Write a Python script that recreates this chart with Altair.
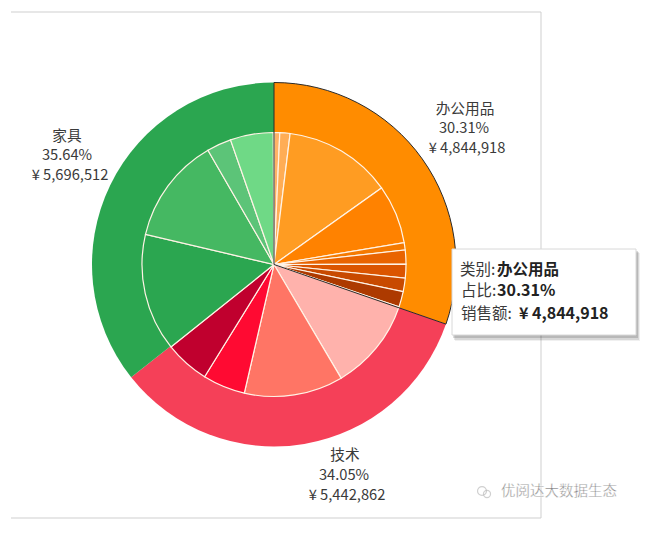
import altair as alt
import pandas as pd

categories = ["办公用品", "技术", "家具"]
shares = [30.31, 34.05, 35.64]
sales = ["¥ 4,844,918", "¥ 5,442,862", "¥ 5,696,512"]
outer_colors = ["#FF8C00", "#F54058", "#2BA650"]

inner_values = [0.70, 1.25, 13.20, 7.20, 0.90, 1.70, 1.70, 1.65, 1.91,
                11.30, 12.10, 5.20, 5.45,
                14.40, 13.00, 3.00, 5.24]
inner_colors = ["#FFB366", "#FFAD55", "#FF9C22", "#FF8200", "#F57A00", "#E96400", "#DB5500", "#C84A00", "#AD3A00",
                "#FFB2AC", "#FF7565", "#FF0A32", "#C0002E",
                "#2BA650", "#45B862", "#5CC478", "#6FD986"]

WIDTH, HEIGHT = 652, 514
CX, CY = 266, 256.5
FONT = "Noto Sans CJK SC"


def segments(values, colors):
    rows, start = [], 0.0
    for v, c in zip(values, colors):
        rows.append({"t0": start, "t1": start + v, "c": c})
        start += v
    return pd.DataFrame(rows)


theta = alt.Theta("t0:Q", scale=alt.Scale(domain=[0, 100], range=[0, 6.283185307]))
pos = dict(x=alt.value(CX), y=alt.value(CY))


def arc(df, **mark):
    return alt.Chart(df).mark_arc(**mark).encode(
        theta=theta, theta2="t1:Q", color=alt.Color("c:N", scale=None), **pos
    )


outer = arc(segments(shares, outer_colors), radius=182, radius2=0)
inner = arc(segments(inner_values, inner_colors), radius=132, radius2=0,
            stroke="#FFF3E6", strokeWidth=1.2)
highlight = alt.Chart(segments(shares[:1], ["#333333"])).mark_arc(
    radius=182, radius2=0, fillOpacity=0, stroke="#2A2A2A", strokeWidth=1
).encode(theta=theta, theta2="t1:Q", **pos)


def vrule(x, y0, y1, color="#CFCFCF", width=1, opacity=1):
    return alt.Chart(pd.DataFrame({"a": [0]})).mark_rule(
        color=color, strokeWidth=width, opacity=opacity
    ).encode(x=alt.value(x), y=alt.value(y0), y2=alt.value(y1))


def hrule(y, x0, x1, color="#CFCFCF", width=1):
    return alt.Chart(pd.DataFrame({"a": [0]})).mark_rule(
        color=color, strokeWidth=width
    ).encode(y=alt.value(y), x=alt.value(x0), x2=alt.value(x1))


def text(s, x, y, size=14.7, weight="normal", align="center", color="#3A3A3A", **kw):
    return alt.Chart(pd.DataFrame({"s": [s]})).mark_text(
        font=FONT, fontSize=size, fontWeight=weight, align=align, baseline="middle", color=color, **kw
    ).encode(text="s:N", x=alt.value(x), y=alt.value(y))


def box(x0, y0, x1, y1, fill, opacity=1.0, **kw):
    return alt.Chart(pd.DataFrame({"a": [0]})).mark_rect(fill=fill, opacity=opacity, **kw).encode(
        x=alt.value(x0), x2=alt.value(x1), y=alt.value(y0), y2=alt.value(y1)
    )


frame = [
    hrule(4, 3, 533),
    hrule(510, 3, 533),
    vrule(533, 4, 510),
]

labels = [
    text(categories[0], 457, 102), text(f"{shares[0]:.2f}%", 456, 121), text(sales[0], 459, 141),
    text(categories[2], 59, 129), text(f"{shares[2]:.2f}%", 59, 148), text(sales[2], 62, 168),
    text(categories[1], 337, 448), text(f"{shares[1]:.2f}%", 336, 468), text(sales[1], 339, 488),
]

tip = [
    box(447, 245, 632, 333, "#000000", 0.06),
    box(446, 244, 631, 332, "#000000", 0.10),
    box(445, 243, 630, 330, "#000000", 0.14),
    box(444, 241, 628, 327, "#FFFFFF", stroke="#D8D8D8", strokeWidth=1),
    text("类别:", 452, 262, 15.5, align="left"),
    text("办公用品", 489, 262, 15.5, "bold", align="left", color="#222222"),
    text("占比:", 453, 283, 15.5, align="left"),
    text("30.31%", 489, 283, 16, "bold", align="left", color="#222222"),
    text("销售额:", 453, 306, 15.5, align="left"),
    text(sales[0], 511, 306, 16, "bold", align="left", color="#222222"),
]

watermark = [
    text("优阅达大数据生态", 493, 484, 14.5, align="left", color="#808080",
         stroke="#FFFFFF", strokeWidth=0.4),
]
icon = alt.Chart(pd.DataFrame({"a": [0]})).mark_point(
    shape="circle", filled=False, color="#BDBDBD", strokeWidth=1.2, size=80
).encode(x=alt.value(474), y=alt.value(483))
icon2 = alt.Chart(pd.DataFrame({"a": [0]})).mark_point(
    shape="circle", filled=False, color="#BDBDBD", strokeWidth=1.2, size=50
).encode(x=alt.value(479), y=alt.value(486))

chart = alt.layer(
    *frame, outer, inner, highlight, *labels, *tip, *watermark, icon, icon2
).properties(
    width=WIDTH, height=HEIGHT, padding=0, background="#FFFFFF",
    autosize=alt.AutoSizeParams(type="none")
).configure_view(stroke=None)

chart.save("out.html", embed_options={"renderer": "svg", "actions": False})
